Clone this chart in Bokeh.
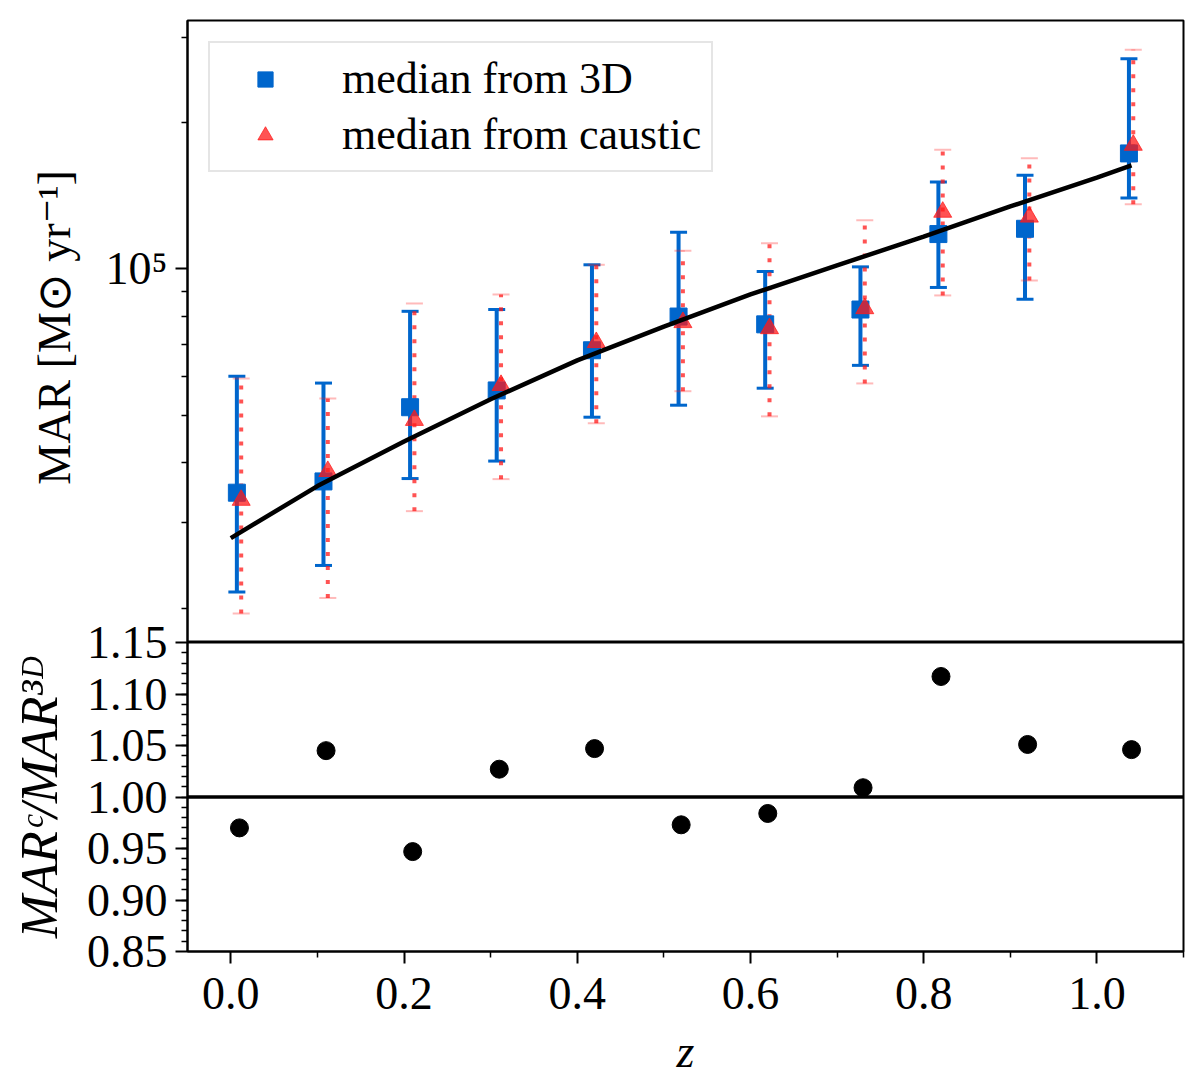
import numpy as np
from bokeh.plotting import figure
from bokeh.layouts import column
from bokeh.models import (ColumnDataSource, Whisker, TeeHead, Range1d, FixedTicker,
                          Span, Legend, LegendItem, PrintfTickFormatter)
from bokeh.embed import file_html
from bokeh.resources import INLINE

# redshift bins
z = [0.01, 0.11, 0.21, 0.31, 0.42, 0.52, 0.62, 0.73, 0.82, 0.92, 1.04]

# median MAR from 3D with 16-84 range
mar_3d = [3.46e4, 3.65e4, 5.19e4, 5.62e4, 6.80e4, 7.98e4, 7.69e4, 8.25e4, 1.18e5, 1.21e5, 1.73e5]
mar_3d_hi = [6.01e4, 5.82e4, 8.18e4, 8.25e4, 1.02e5, 1.19e5, 9.88e4, 1.01e5, 1.51e5, 1.56e5, 2.71e5]
mar_3d_lo = [2.16e4, 2.45e4, 3.70e4, 4.02e4, 4.95e4, 5.24e4, 5.68e4, 6.33e4, 9.16e4, 8.66e4, 1.40e5]

# median MAR from caustic
mar_c = [3.34e4, 3.83e4, 4.88e4, 5.76e4, 7.06e4, 7.76e4, 7.54e4, 8.29e4, 1.31e5, 1.28e5, 1.80e5]
mar_c_hi = [5.95e4, 5.41e4, 8.49e4, 8.86e4, 1.02e5, 1.09e5, 1.13e5, 1.26e5, 1.76e5, 1.69e5, 2.83e5]
mar_c_lo = [1.95e4, 2.10e4, 3.17e4, 3.69e4, 4.81e4, 5.60e4, 4.97e4, 5.81e4, 8.82e4, 9.47e4, 1.36e5]

# ratio caustic / 3D
ratio = [0.970, 1.045, 0.947, 1.027, 1.047, 0.973, 0.984, 1.009, 1.117, 1.051, 1.046]

# fitted relation (black curve)
z_fit = [0.0, 0.1, 0.2, 0.3, 0.4, 0.5, 0.6, 0.7, 0.8, 0.9, 1.0, 1.04]
mar_fit = [2.79e4, 3.57e4, 4.41e4, 5.39e4, 6.48e4, 7.61e4, 8.86e4, 1.017e5, 1.166e5, 1.345e5, 1.543e5, 1.634e5]

BLUE = "#0066cc"
RED = "#ff1a1a"
FONT = "Liberation Serif"

src = ColumnDataSource(dict(
    z3=[v - 0.003 for v in z], zc=[v + 0.002 for v in z], zr=z,
    m3=mar_3d, hi3=mar_3d_hi, lo3=mar_3d_lo,
    mc=mar_c, hic=mar_c_hi, loc=mar_c_lo, ratio=ratio))

xr = Range1d(-0.05, 1.1)


def style(p):
    p.outline_line_color = "black"
    p.outline_line_width = 2
    p.outline_line_alpha = 1
    p.grid.visible = False
    for ax in p.axis:
        ax.axis_line_width = 2
        ax.major_tick_line_width = 2
        ax.minor_tick_line_width = 1.5
        ax.major_tick_out = 12
        ax.major_tick_in = 0
        ax.minor_tick_out = 6
        ax.minor_tick_in = 0
        ax.major_label_text_font = FONT
        ax.major_label_text_font_size = "46px"
        ax.major_label_text_color = "black"
        ax.axis_label_text_font = FONT
        ax.axis_label_text_font_size = "46px"
        ax.axis_label_text_font_style = "normal"
        ax.axis_label_text_color = "black"


# top panel
p1 = figure(width=1191, height=642, x_range=xr, y_range=Range1d(1.70e4, 3.25e5),
            y_axis_type="log", x_axis_location=None, output_backend="svg",
            toolbar_location=None, min_border_left=187, min_border_right=8,
            min_border_top=20, min_border_bottom=0)
style(p1)
p1.yaxis.ticker = FixedTicker(ticks=[1e5],
                              minor_ticks=[2e4, 3e4, 4e4, 5e4, 6e4, 7e4, 8e4, 9e4, 2e5, 3e5])
p1.yaxis.major_label_overrides = {100000: "10⁵"}
p1.yaxis.axis_label = "MAR [M⊙ yr⁻¹]"
p1.yaxis.major_label_standoff = 8
p1.yaxis.axis_label_standoff = 22

p1.add_layout(Whisker(source=src, base="z3", upper="hi3", lower="lo3", dimension="height",
                      line_color=BLUE, line_width=4,
                      upper_head=TeeHead(size=17, line_color=BLUE, line_width=3),
                      lower_head=TeeHead(size=17, line_color=BLUE, line_width=3)))
sq = p1.scatter("z3", "m3", source=src, marker="square", size=17, color=BLUE)

p1.add_layout(Whisker(source=src, base="zc", upper="hic", lower="loc", dimension="height",
                      line_color=RED, line_alpha=0.75, line_width=4, line_dash="4 10",
                      upper_head=TeeHead(size=17, line_color=RED, line_alpha=0.3, line_width=2),
                      lower_head=TeeHead(size=17, line_color=RED, line_alpha=0.3, line_width=2)))
tri = p1.scatter("zc", "mc", source=src, marker="triangle", size=18, color=RED, alpha=0.75)

p1.line(z_fit, mar_fit, line_color="black", line_width=4.5)

legend = Legend(items=[LegendItem(label="median from 3D", renderers=[sq]),
                       LegendItem(label="median from caustic", renderers=[tri])],
                location="top_left", margin=21, padding=10, spacing=5,
                glyph_width=90, glyph_height=38, label_height=38, label_standoff=32,
                label_text_font=FONT, label_text_font_size="44px",
                label_text_color="black",
                border_line_color="#cccccc", border_line_width=2,
                background_fill_alpha=0.8)
p1.add_layout(legend)

# bottom panel (pulled up so that its top tick label can overlap the upper panel)
p2 = figure(width=1191, height=462, x_range=xr, y_range=Range1d(0.85, 1.15),
            output_backend="svg", toolbar_location=None, min_border_left=187,
            min_border_right=8, min_border_top=25, min_border_bottom=127,
            margin=(-25, 0, 0, 0))
style(p2)
p2.border_fill_alpha = 0
p2.yaxis.ticker = FixedTicker(ticks=[0.85, 0.90, 0.95, 1.00, 1.05, 1.10, 1.15],
                              minor_ticks=[float(t) for t in np.round(np.arange(0.86, 1.15, 0.01), 2)])
p2.yaxis.formatter = PrintfTickFormatter(format="%.2f")
p2.yaxis.axis_label = "MARᶜ/MAR³ᴰ"
p2.yaxis.axis_label_text_font_style = "italic"
p2.yaxis.axis_label_text_font_size = "52px"
p2.yaxis.major_label_standoff = 8
p2.yaxis.axis_label_standoff = 16
p2.xaxis.ticker = FixedTicker(ticks=[0.0, 0.2, 0.4, 0.6, 0.8, 1.0],
                              minor_ticks=[0.1, 0.3, 0.5, 0.7, 0.9, 1.1])
p2.xaxis.formatter = PrintfTickFormatter(format="%.1f")
p2.xaxis.axis_label = "z"
p2.xaxis.axis_label_text_font_style = "italic"
p2.xaxis.major_label_standoff = 14
p2.xaxis.axis_label_standoff = 14

p2.add_layout(Span(location=1.0, dimension="width", line_color="black", line_width=3.5))
p2.scatter("zr", "ratio", source=src, marker="circle", size=18, color="black")

layout = column(p1, p2)
open("out.html", "w").write(file_html(layout, INLINE))
